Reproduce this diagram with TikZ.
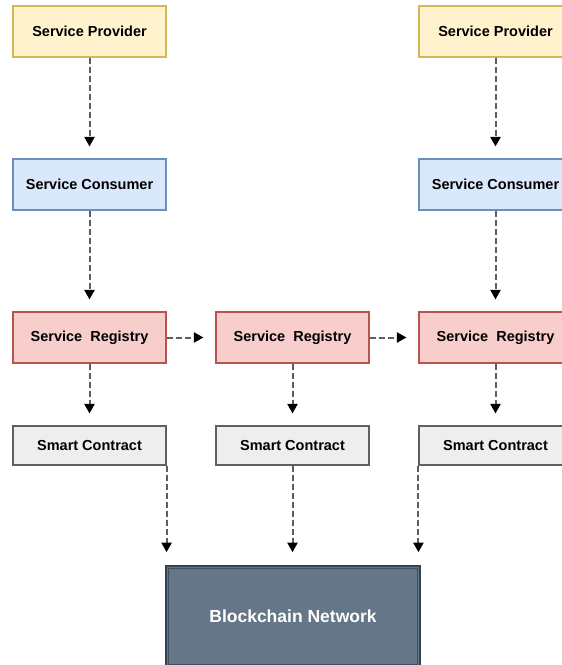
\documentclass[tikz,border=0pt]{standalone}
\usepackage{fontspec}
\setmainfont{Liberation Sans}
\usetikzlibrary{arrows.meta}

\definecolor{provfill}{HTML}{FFF2CC}
\definecolor{provline}{HTML}{D6B656}
\definecolor{consfill}{HTML}{DAE8FC}
\definecolor{consline}{HTML}{6C8EBF}
\definecolor{regfill}{HTML}{F8CECC}
\definecolor{regline}{HTML}{B85450}
\definecolor{scfill}{HTML}{EEEEEE}
\definecolor{scline}{HTML}{36393D}
\definecolor{bcfill}{HTML}{647687}
\definecolor{bcline}{HTML}{314354}
\definecolor{dashgray}{HTML}{5E5E5E}

\tikzset{
  box/.style={draw, rectangle, line width=1.1pt, minimum width=153pt,
    minimum height=51pt, inner sep=0pt,
    font=\fontsize{14.5}{16}\selectfont\bfseries},
  provider/.style={box, fill=provfill, draw=provline},
  consumer/.style={box, fill=consfill, draw=consline},
  registry/.style={box, fill=regfill, draw=regline},
  contract/.style={box, fill=scfill, draw=scline!80!white, minimum height=39pt},
  chain/.style={rectangle, fill=bcfill, draw=bcline, line width=1.6pt,
    minimum width=254pt, minimum height=101pt, inner sep=0pt,
    text=white, font=\fontsize{17.5}{20}\selectfont\bfseries},
  flow/.style={draw=dashgray, line width=2pt, dash pattern=on 6pt off 3pt,
    -{Triangle[length=9.5pt,width=10pt,color=black]}, shorten >=12pt}
}

\begin{document}
\begin{tikzpicture}[x=1pt, y=-1pt]
  \useasboundingbox (0,0) rectangle (562,665);
  \clip (0,0) rectangle (562,665);

  % left column
  \node[provider] (p1) at (89.5,31.5)  {Service Provider};
  \node[consumer] (c1) at (89.5,184.5) {Service Consumer};
  \node[registry] (r1) at (89.5,337.5) {Service\ \ Registry};
  \node[contract] (s1) at (89.5,445.5) {Smart Contract};

  % middle column
  \node[registry] (r2) at (292.5,337.5) {Service\ \ Registry};
  \node[contract] (s2) at (292.5,445.5) {Smart Contract};

  % right column
  \node[provider] (p3) at (495.5,31.5)  {Service Provider};
  \node[consumer] (c3) at (495.5,184.5) {Service Consumer};
  \node[registry] (r3) at (495.5,337.5) {Service\ \ Registry};
  \node[contract] (s3) at (495.5,445.5) {Smart Contract};

  % shared ledger with a double outline
  \node[chain] (bc) at (293,616.5) {Blockchain Network};
  \draw[bcline!75!bcfill, line width=1pt]
    ([shift={(3.5pt,3.5pt)}]bc.south west) rectangle ([shift={(-3.5pt,-3.5pt)}]bc.north east);

  % vertical flows
  \draw[flow] (p1) -- (c1);
  \draw[flow] (c1) -- (r1);
  \draw[flow] (r1) -- (s1);
  \draw[flow] (p3) -- (c3);
  \draw[flow] (c3) -- (r3);
  \draw[flow] (r3) -- (s3);
  \draw[flow] (r2) -- (s2);

  % registry chain
  \draw[flow] (r1) -- (r2);
  \draw[flow] (r2) -- (r3);

  % contracts down to the network
  \draw[flow, shorten >=13pt] (s1.south east) -- (s1.south east |- bc.north);
  \draw[flow, shorten >=13pt] (s2.south) -- (s2.south |- bc.north);
  \draw[flow, shorten >=13pt] (s3.south west) -- (s3.south west |- bc.north);
\end{tikzpicture}
\end{document}
